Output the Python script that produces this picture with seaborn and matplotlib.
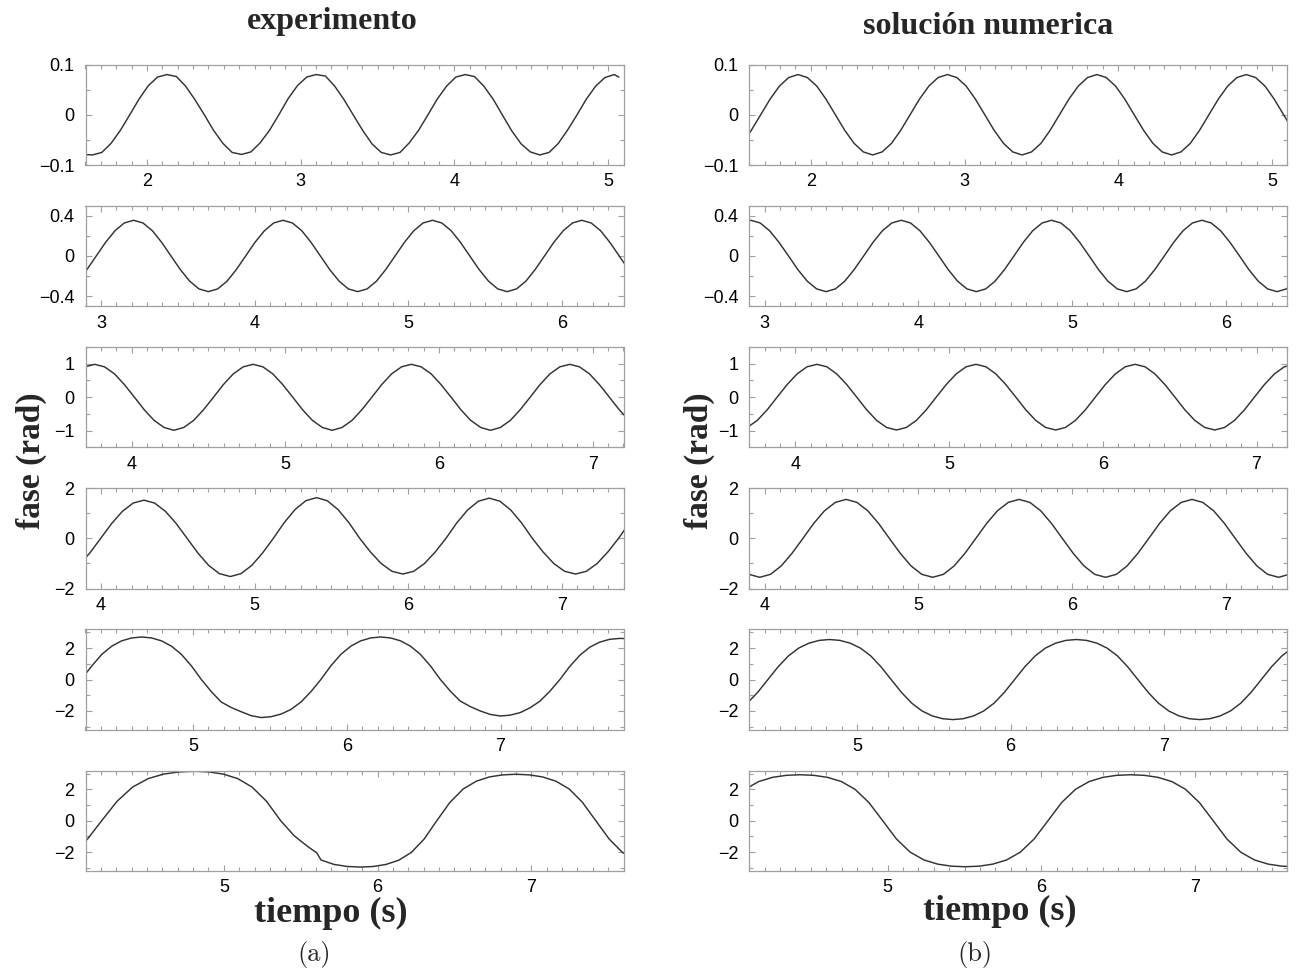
import matplotlib
matplotlib.use("Agg")
import matplotlib.pyplot as plt
import seaborn as sns
from matplotlib.ticker import MultipleLocator, FixedLocator, FuncFormatter

# ---------------- data ----------------
# row 1 : experimento / solucion numerica
t_exp1 = [1.584, 1.645, 1.706, 1.766, 1.827, 1.888, 1.948, 2.009, 2.069, 2.130,
          2.191, 2.251, 2.312, 2.373, 2.433, 2.494, 2.554, 2.615, 2.676, 2.736,
          2.797, 2.858, 2.918, 2.979, 3.039, 3.100, 3.161, 3.221, 3.282, 3.343,
          3.403, 3.464, 3.524, 3.585, 3.646, 3.706, 3.767, 3.828, 3.888, 3.949,
          4.009, 4.070, 4.131, 4.191, 4.252, 4.313, 4.373, 4.434, 4.494, 4.555,
          4.616, 4.676, 4.737, 4.798, 4.858, 4.919, 4.979, 5.040, 5.070]
y_exp1 = [-0.079, -0.080, -0.075, -0.057, -0.031, 0.000, 0.031, 0.058, 0.075, 0.080,
          0.076, 0.057, 0.030, 0.000, -0.031, -0.057, -0.075, -0.079, -0.074, -0.056,
          -0.031, 0.000, 0.032, 0.058, 0.075, 0.080, 0.077, 0.057, 0.030, -0.001,
          -0.031, -0.058, -0.075, -0.080, -0.075, -0.056, -0.031, 0.000, 0.031, 0.057,
          0.075, 0.080, 0.076, 0.057, 0.031, -0.001, -0.032, -0.058, -0.074, -0.080,
          -0.075, -0.057, -0.030, 0.000, 0.031, 0.057, 0.074, 0.080, 0.075]
t_num1 = [1.553, 1.613, 1.674, 1.735, 1.796, 1.856, 1.917, 1.978, 2.039, 2.099,
          2.160, 2.221, 2.282, 2.342, 2.403, 2.464, 2.525, 2.585, 2.646, 2.707,
          2.768, 2.828, 2.889, 2.950, 3.011, 3.071, 3.132, 3.193, 3.254, 3.314,
          3.375, 3.436, 3.497, 3.557, 3.618, 3.679, 3.740, 3.800, 3.861, 3.922,
          3.983, 4.043, 4.104, 4.165, 4.226, 4.286, 4.347, 4.408, 4.469, 4.529,
          4.590, 4.651, 4.712, 4.772, 4.833, 4.894, 4.955, 5.015, 5.076, 5.137]
y_num1 = [-0.057, -0.031, 0.000, 0.031, 0.057, 0.074, 0.080, 0.074, 0.057, 0.031,
          0.000, -0.031, -0.057, -0.074, -0.080, -0.074, -0.057, -0.031, 0.000, 0.031,
          0.057, 0.074, 0.080, 0.074, 0.057, 0.031, 0.000, -0.031, -0.057, -0.074,
          -0.080, -0.074, -0.057, -0.031, 0.000, 0.031, 0.057, 0.074, 0.080, 0.074,
          0.057, 0.031, 0.000, -0.031, -0.057, -0.074, -0.080, -0.074, -0.057, -0.031,
          0.000, 0.031, 0.057, 0.074, 0.080, 0.074, 0.057, 0.031, 0.000, -0.031]

# row 2
t_exp2 = [2.849, 2.909, 2.970, 3.031, 3.092, 3.152, 3.213, 3.274, 3.335, 3.395,
          3.456, 3.517, 3.578, 3.638, 3.699, 3.760, 3.821, 3.881, 3.942, 4.003,
          4.064, 4.124, 4.185, 4.246, 4.307, 4.367, 4.428, 4.489, 4.550, 4.610,
          4.671, 4.732, 4.793, 4.853, 4.914, 4.975, 5.036, 5.096, 5.157, 5.218,
          5.279, 5.339, 5.400, 5.461, 5.522, 5.582, 5.643, 5.704, 5.765, 5.825,
          5.886, 5.947, 6.008, 6.068, 6.129, 6.190, 6.251, 6.311, 6.372, 6.433]
y_exp2 = [-0.251, -0.136, 0.000, 0.136, 0.251, 0.328, 0.355, 0.328, 0.251, 0.136,
          0.000, -0.136, -0.251, -0.328, -0.355, -0.328, -0.251, -0.136, 0.000, 0.136,
          0.251, 0.328, 0.355, 0.328, 0.251, 0.136, 0.000, -0.136, -0.251, -0.328,
          -0.355, -0.328, -0.251, -0.136, 0.000, 0.136, 0.251, 0.328, 0.355, 0.328,
          0.251, 0.136, 0.000, -0.136, -0.251, -0.328, -0.355, -0.328, -0.251, -0.136,
          0.000, 0.136, 0.251, 0.328, 0.355, 0.328, 0.251, 0.136, 0.000, -0.136]
t_num2 = [2.849, 2.910, 2.971, 3.032, 3.093, 3.155, 3.216, 3.277, 3.338, 3.399,
          3.460, 3.521, 3.582, 3.644, 3.705, 3.766, 3.827, 3.888, 3.949, 4.010,
          4.071, 4.133, 4.194, 4.255, 4.316, 4.377, 4.438, 4.499, 4.560, 4.622,
          4.683, 4.744, 4.805, 4.866, 4.927, 4.988, 5.049, 5.111, 5.172, 5.233,
          5.294, 5.355, 5.416, 5.477, 5.538, 5.600, 5.661, 5.722, 5.783, 5.844,
          5.905, 5.966, 6.027, 6.089, 6.150, 6.211, 6.272, 6.333, 6.394, 6.455]
y_num2 = [0.328, 0.355, 0.328, 0.251, 0.136, 0.000, -0.136, -0.251, -0.328, -0.355,
          -0.328, -0.251, -0.136, 0.000, 0.136, 0.251, 0.328, 0.355, 0.328, 0.251,
          0.136, 0.000, -0.136, -0.251, -0.328, -0.355, -0.328, -0.251, -0.136, 0.000,
          0.136, 0.251, 0.328, 0.355, 0.328, 0.251, 0.136, 0.000, -0.136, -0.251,
          -0.328, -0.355, -0.328, -0.251, -0.136, 0.000, 0.136, 0.251, 0.328, 0.355,
          0.328, 0.251, 0.136, 0.000, -0.136, -0.251, -0.328, -0.355, -0.328, -0.251]

# row 3
t_exp3 = [3.696, 3.760, 3.824, 3.889, 3.953, 4.018, 4.082, 4.146, 4.211, 4.275,
          4.339, 4.404, 4.468, 4.533, 4.597, 4.661, 4.726, 4.790, 4.854, 4.919,
          4.983, 5.048, 5.112, 5.176, 5.241, 5.305, 5.369, 5.434, 5.498, 5.563,
          5.627, 5.691, 5.756, 5.820, 5.884, 5.949, 6.013, 6.078, 6.142, 6.206,
          6.271, 6.335, 6.399, 6.464, 6.528, 6.593, 6.657, 6.721, 6.786, 6.850,
          6.914, 6.979, 7.043, 7.108, 7.172, 7.236]
y_exp3 = [0.905, 0.980, 0.905, 0.693, 0.375, 0.000, -0.375, -0.693, -0.905, -0.990,
          -0.905, -0.693, -0.375, 0.000, 0.375, 0.693, 0.905, 0.980, 0.905, 0.693,
          0.375, 0.000, -0.375, -0.693, -0.905, -0.990, -0.905, -0.693, -0.375, 0.000,
          0.375, 0.693, 0.905, 0.980, 0.905, 0.693, 0.375, 0.000, -0.375, -0.693,
          -0.905, -0.990, -0.905, -0.693, -0.375, 0.000, 0.375, 0.693, 0.905, 0.980,
          0.905, 0.693, 0.375, 0.000, -0.375, -0.693]
t_num3 = [3.687, 3.752, 3.817, 3.881, 3.946, 4.011, 4.075, 4.140, 4.205, 4.269,
          4.334, 4.399, 4.463, 4.528, 4.593, 4.658, 4.722, 4.787, 4.852, 4.916,
          4.981, 5.046, 5.110, 5.175, 5.240, 5.304, 5.369, 5.434, 5.498, 5.563,
          5.628, 5.693, 5.757, 5.822, 5.887, 5.951, 6.016, 6.081, 6.145, 6.210,
          6.275, 6.339, 6.404, 6.469, 6.533, 6.598, 6.663, 6.728, 6.792, 6.857,
          6.922, 6.986, 7.051, 7.116, 7.180, 7.245]
y_num3 = [-0.905, -0.693, -0.375, 0.000, 0.375, 0.693, 0.905, 0.980, 0.905, 0.693,
          0.375, 0.000, -0.375, -0.693, -0.905, -0.980, -0.905, -0.693, -0.375, 0.000,
          0.375, 0.693, 0.905, 0.980, 0.905, 0.693, 0.375, 0.000, -0.375, -0.693,
          -0.905, -0.980, -0.905, -0.693, -0.375, 0.000, 0.375, 0.693, 0.905, 0.980,
          0.905, 0.693, 0.375, 0.000, -0.375, -0.693, -0.905, -0.980, -0.905, -0.693,
          -0.375, 0.000, 0.375, 0.693, 0.905, 0.980]

# row 4
t_exp4 = [3.859, 3.929, 3.999, 4.069, 4.140, 4.210, 4.280, 4.350, 4.420, 4.491,
          4.561, 4.631, 4.701, 4.771, 4.842, 4.912, 4.982, 5.052, 5.122, 5.192,
          5.263, 5.333, 5.403, 5.473, 5.543, 5.614, 5.684, 5.754, 5.824, 5.894,
          5.965, 6.035, 6.105, 6.175, 6.245, 6.315, 6.386, 6.456, 6.526, 6.596,
          6.666, 6.737, 6.807, 6.877, 6.947, 7.017, 7.088, 7.158, 7.228, 7.298,
          7.368, 7.438]
y_exp4 = [-1.060, -0.575, 0.000, 0.582, 1.075, 1.404, 1.520, 1.404, 1.075, 0.582,
          0.000, -0.582, -1.075, -1.404, -1.520, -1.404, -1.075, -0.582, 0.000, 0.620,
          1.145, 1.497, 1.620, 1.497, 1.145, 0.620, 0.000, -0.544, -1.004, -1.312,
          -1.420, -1.312, -1.004, -0.544, 0.000, 0.613, 1.131, 1.478, 1.600, 1.478,
          1.131, 0.613, 0.000, -0.544, -1.004, -1.312, -1.420, -1.312, -1.004, -0.544,
          0.000, 0.613]
t_num4 = [3.897, 3.968, 4.038, 4.108, 4.178, 4.249, 4.319, 4.389, 4.460, 4.530,
          4.600, 4.671, 4.741, 4.811, 4.882, 4.952, 5.022, 5.093, 5.163, 5.233,
          5.303, 5.374, 5.444, 5.514, 5.585, 5.655, 5.725, 5.796, 5.866, 5.936,
          6.007, 6.077, 6.147, 6.218, 6.288, 6.358, 6.428, 6.499, 6.569, 6.639,
          6.710, 6.780, 6.850, 6.921, 6.991, 7.061, 7.132, 7.202, 7.272, 7.343,
          7.413]
y_num4 = [-1.432, -1.550, -1.432, -1.096, -0.594, 0.000, 0.594, 1.096, 1.432, 1.550,
          1.432, 1.096, 0.594, 0.000, -0.594, -1.096, -1.432, -1.550, -1.432, -1.096,
          -0.594, 0.000, 0.594, 1.096, 1.432, 1.550, 1.432, 1.096, 0.594, 0.000,
          -0.594, -1.096, -1.432, -1.550, -1.432, -1.096, -0.594, 0.000, 0.594, 1.096,
          1.432, 1.550, 1.432, 1.096, 0.594, 0.000, -0.594, -1.096, -1.432, -1.550,
          -1.432]

# row 5
t_exp5 = [4.276, 4.341, 4.406, 4.471, 4.535, 4.600, 4.665, 4.730, 4.795, 4.859,
          4.924, 4.989, 5.054, 5.119, 5.183, 5.248, 5.313, 5.378, 5.443, 5.507,
          5.572, 5.637, 5.702, 5.766, 5.831, 5.896, 5.961, 6.026, 6.090, 6.155,
          6.220, 6.285, 6.350, 6.414, 6.479, 6.544, 6.609, 6.674, 6.738, 6.803,
          6.868, 6.933, 6.998, 7.062, 7.127, 7.192, 7.257, 7.321, 7.386, 7.451,
          7.516, 7.580, 7.645, 7.710, 7.775, 7.840]
y_exp5 = [0.050, 0.870, 1.602, 2.127, 2.463, 2.650, 2.710, 2.650, 2.463, 2.127,
          1.602, 0.870, 0.000, -0.777, -1.430, -1.780, -2.050, -2.300, -2.420, -2.367,
          -2.200, -1.900, -1.430, -0.777, 0.000, 0.870, 1.602, 2.127, 2.463, 2.650,
          2.710, 2.650, 2.463, 2.127, 1.602, 0.870, 0.000, -0.745, -1.371, -1.720,
          -2.000, -2.220, -2.320, -2.269, -2.109, -1.800, -1.371, -0.745, 0.000, 0.841,
          1.548, 2.057, 2.382, 2.562, 2.620, 2.600]
t_num5 = [4.287, 4.354, 4.421, 4.488, 4.555, 4.621, 4.688, 4.755, 4.822, 4.889,
          4.956, 5.023, 5.090, 5.156, 5.223, 5.290, 5.357, 5.424, 5.491, 5.558,
          5.625, 5.691, 5.758, 5.825, 5.892, 5.959, 6.026, 6.093, 6.160, 6.226,
          6.293, 6.360, 6.427, 6.494, 6.561, 6.628, 6.695, 6.761, 6.828, 6.895,
          6.962, 7.029, 7.096, 7.163, 7.230, 7.296, 7.363, 7.430, 7.497, 7.564,
          7.631, 7.698, 7.765, 7.831]
y_num5 = [-1.507, -0.819, 0.000, 0.819, 1.507, 2.002, 2.318, 2.494, 2.550, 2.494,
          2.318, 2.002, 1.507, 0.819, 0.000, -0.819, -1.507, -2.002, -2.318, -2.494,
          -2.550, -2.494, -2.318, -2.002, -1.507, -0.819, 0.000, 0.819, 1.507, 2.002,
          2.318, 2.494, 2.550, 2.494, 2.318, 2.002, 1.507, 0.819, 0.000, -0.819,
          -1.507, -2.002, -2.318, -2.494, -2.550, -2.494, -2.318, -2.002, -1.507, -0.819,
          0.000, 0.819, 1.507, 2.002]

# row 6
t_exp6 = [4.022, 4.113, 4.205, 4.306, 4.407, 4.508, 4.608, 4.709, 4.810, 4.903,
          4.997, 5.090, 5.183, 5.277, 5.370, 5.457, 5.543, 5.605, 5.632, 5.717,
          5.803, 5.890, 5.973, 6.055, 6.138, 6.220, 6.303, 6.385, 6.471, 6.557,
          6.643, 6.728, 6.814, 6.900, 6.987, 7.073, 7.160, 7.247, 7.333, 7.420,
          7.507, 7.593, 7.680]
y_exp6 = [-2.015, -1.168, 0.000, 1.247, 2.151, 2.684, 2.970, 3.109, 3.150, 3.109,
          2.970, 2.684, 2.151, 1.247, 0.000, -0.950, -1.620, -2.050, -2.500, -2.782,
          -2.912, -2.950, -2.912, -2.782, -2.513, -2.015, -1.168, 0.000, 1.172, 2.022,
          2.522, 2.791, 2.922, 2.960, 2.922, 2.791, 2.522, 2.022, 1.172, 0.000,
          -1.168, -2.015, -2.513]
t_num6 = [4.072, 4.161, 4.251, 4.340, 4.430, 4.520, 4.609, 4.699, 4.788, 4.878,
          4.968, 5.057, 5.147, 5.236, 5.326, 5.415, 5.505, 5.595, 5.684, 5.774,
          5.863, 5.953, 6.043, 6.132, 6.222, 6.311, 6.401, 6.490, 6.580, 6.670,
          6.759, 6.849, 6.938, 7.028, 7.118, 7.207, 7.297, 7.386, 7.476, 7.565,
          7.655]
y_num6 = [2.001, 2.496, 2.763, 2.892, 2.930, 2.892, 2.763, 2.496, 2.001, 1.160,
          0.000, -1.160, -2.001, -2.496, -2.763, -2.892, -2.930, -2.892, -2.763, -2.496,
          -2.001, -1.160, 0.000, 1.160, 2.001, 2.496, 2.763, 2.892, 2.930, 2.892,
          2.763, 2.496, 2.001, 1.160, 0.000, -1.160, -2.001, -2.496, -2.763, -2.892,
          -2.930]

# axis settings per row
x_limits = [(1.6, 5.1), (2.9, 6.4), (3.7, 7.2), (3.9, 7.4), (4.3, 7.8), (4.1, 7.6)]
y_limits = [(-0.1, 0.1), (-0.5, 0.5), (-1.5, 1.5), (-2, 2), (-3.2, 3.2), (-3.2, 3.2)]
y_major = [[-0.1, 0, 0.1], [-0.4, 0, 0.4], [-1, 0, 1], [-2, 0, 2], [-2, 0, 2], [-2, 0, 2]]
y_minor_step = [0.05, 0.2, 0.5, 1, 1, 1]

column_titles = ["experimento", "solución numerica"]
y_label = "fase (rad)"
x_label = "tiempo (s)"
panel_tags = ["(a)", "(b)"]

exp_series = [(t_exp1, y_exp1), (t_exp2, y_exp2), (t_exp3, y_exp3),
              (t_exp4, y_exp4), (t_exp5, y_exp5), (t_exp6, y_exp6)]
num_series = [(t_num1, y_num1), (t_num2, y_num2), (t_num3, y_num3),
              (t_num4, y_num4), (t_num5, y_num5), (t_num6, y_num6)]

# ---------------- drawing ----------------
sns.set_theme(style="white")
plt.rcParams['font.family'] = ['Liberation Sans', 'DejaVu Sans']

W, H = 1296, 975
fig = plt.figure(figsize=(W / 100, H / 100), dpi=100)

frame_col = "#a0a0a0"
line_col = "#333333"
col_left_px = [85.5, 749.3]
ax_w_px = 538.0
ax_h_px = 100.5
row_top_px = [64.5 + 141.2 * i for i in range(6)]


def fmt(v, pos=None):
    s = f"{v:g}"
    return s.replace("-", "\u2212")


for c, series in enumerate([exp_series, num_series]):
    for r in range(6):
        x0 = col_left_px[c] / W
        y0 = 1 - (row_top_px[r] + ax_h_px) / H
        ax = fig.add_axes([x0, y0, ax_w_px / W, ax_h_px / H])
        t, y = series[r]
        sns.lineplot(x=t, y=y, ax=ax, color=line_col, linewidth=1.05,
                     estimator=None, sort=False)
        ax.set_xlim(*x_limits[r])
        ax.set_ylim(*y_limits[r])
        ax.set_xlabel("")
        ax.set_ylabel("")
        ax.xaxis.set_major_locator(MultipleLocator(1))
        ax.xaxis.set_minor_locator(MultipleLocator(0.1))
        ax.yaxis.set_major_locator(FixedLocator(y_major[r]))
        ax.yaxis.set_minor_locator(MultipleLocator(y_minor_step[r]))
        ax.xaxis.set_major_formatter(FuncFormatter(fmt))
        ax.yaxis.set_major_formatter(FuncFormatter(fmt))
        for sp in ax.spines.values():
            sp.set_visible(True)
            sp.set_color(frame_col)
            sp.set_linewidth(0.9)
        ax.tick_params(which="both", direction="in", top=True, right=True,
                       bottom=True, left=True, color=frame_col, width=0.8)
        ax.tick_params(which="major", length=4.5, labelsize=13, labelcolor="black")
        ax.tick_params(which="minor", length=3.0)
        ax.tick_params(axis="x", which="major", pad=6)
        ax.tick_params(axis="y", which="major", pad=8)
        ax.grid(False)

serif_bold = dict(family=["Liberation Serif", "DejaVu Serif"], weight="bold")
fig.text(332 / W, 1 - 29 / H, column_titles[0], ha="center", va="baseline",
         fontsize=23, **serif_bold)
fig.text(988 / W, 1 - 34 / H, column_titles[1], ha="center", va="baseline",
         fontsize=23, **serif_bold)
fig.text(31 / W, 1 - 461 / H, y_label, ha="center", va="center", rotation=90,
         fontsize=24, **serif_bold)
fig.text(699 / W, 1 - 461 / H, y_label, ha="center", va="center", rotation=90,
         fontsize=24, **serif_bold)
fig.text(331 / W, 1 - 922 / H, x_label, ha="center", va="baseline",
         fontsize=26, **serif_bold)
fig.text(1000 / W, 1 - 920 / H, x_label, ha="center", va="baseline",
         fontsize=26, **serif_bold)
fig.text(314 / W, 1 - 955 / H, panel_tags[0], ha="center", va="center",
         fontsize=19, family=["cmr10", "DejaVu Serif"])
fig.text(975 / W, 1 - 955 / H, panel_tags[1], ha="center", va="center",
         fontsize=19, family=["cmr10", "DejaVu Serif"])

fig.savefig("out.png", dpi=100, facecolor="white")
